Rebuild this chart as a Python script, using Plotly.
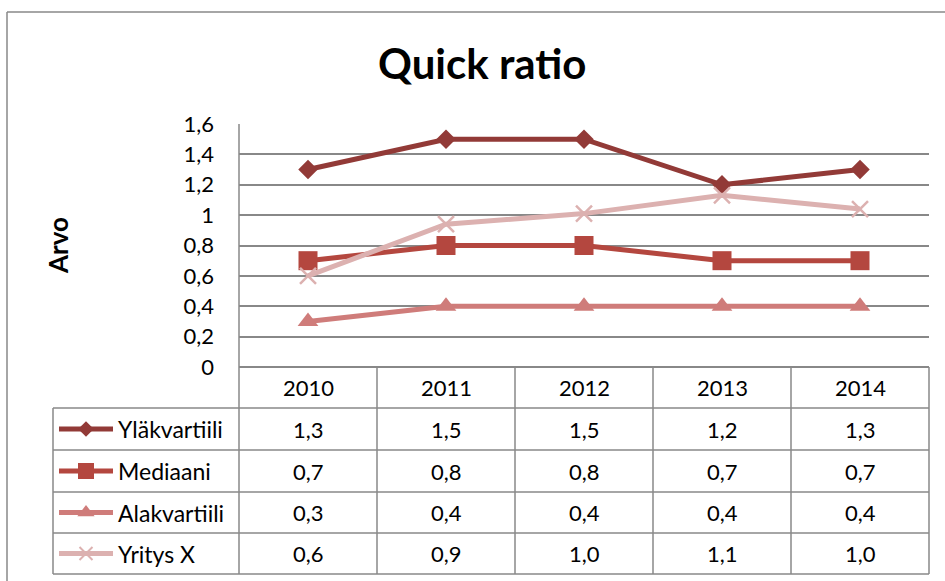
import plotly.graph_objects as go

W, H = 945, 581

# ---------------- data ----------------
years = ["2010", "2011", "2012", "2013", "2014"]
series_names = ["Yläkvartiili", "Mediaani", "Alakvartiili", "Yritys X"]
ylakvartiili = [1.3, 1.5, 1.5, 1.2, 1.3]
mediaani = [0.7, 0.8, 0.8, 0.7, 0.7]
alakvartiili = [0.3, 0.4, 0.4, 0.4, 0.4]
yritys_x = [0.60, 0.94, 1.01, 1.13, 1.04]
y_tick_vals = [0, 0.2, 0.4, 0.6, 0.8, 1.0, 1.2, 1.4, 1.6]
y_tick_text = ["0", "0,2", "0,4", "0,6", "0,8", "1", "1,2", "1,4", "1,6"]
title_text = "Quick ratio"
y_title = "Arvo"

series_values = [ylakvartiili, mediaani, alakvartiili, yritys_x]

# ---------------- styles ----------------
FONT = "Lato"
GRID = "#888888"
TXT = 22
styles = [
    dict(color="#923a37", symbol="diamond", size=15, ksize=12),
    dict(color="#b4473f", symbol="square", size=19, ksize=16),
    dict(color="#cf7c7a", symbol="triangle-up", size=18, ksize=15),
    dict(color="#dcb1b0", symbol="x-thin", size=16, ksize=13),
]

# layout in pixels
PL, PR, PT, PB = 239, 929, 124, 367
LEG_L = 53
ROW_LINES = [408, 450, 492, 533, 574]
HEADER_C = (PB + ROW_LINES[0]) / 2


def py(y):
    return 1 - y / H


fig = go.Figure()

for name, vals, st in zip(series_names, series_values, styles):
    mk = dict(color=st["color"], symbol=st["symbol"], size=st["size"])
    if st["symbol"] == "x-thin":
        mk["line"] = dict(color=st["color"], width=2.5)
    else:
        mk["line"] = dict(width=0)
    fig.add_trace(go.Scatter(
        x=years, y=vals, name=name, mode="lines+markers",
        line=dict(color=st["color"], width=5),
        marker=mk, xaxis="x", yaxis="y", showlegend=False,
        hoverinfo="skip",
    ))

shapes = []
annotations = []


def hline(x0, x1, y):
    shapes.append(dict(type="line", xref="x2", yref="y2", x0=x0, x1=x1, y0=y, y1=y,
                       line=dict(color=GRID, width=1.5), layer="above"))


def vline(x, y0, y1):
    shapes.append(dict(type="line", xref="x2", yref="y2", x0=x, x1=x, y0=y0, y1=y1,
                       line=dict(color=GRID, width=1.5), layer="above"))


# outer chart border
hline(7, W, 12)
vline(7, 12, H)

# table lines
vline(PL, PT, ROW_LINES[-1])
vline(LEG_L, ROW_LINES[0], ROW_LINES[-1])
for y in ROW_LINES:
    hline(LEG_L, PR, y)
col_w = (PR - PL) / len(years)
for i in range(1, len(years) + 1):
    vline(PL + i * col_w, PB, ROW_LINES[-1])

# header years (x positioned through the category axis by index)
for i, yr in enumerate(years):
    annotations.append(dict(x=i, y=HEADER_C, xref="x", yref="y2", text=yr,
                            showarrow=False, font=dict(family=FONT, size=TXT, color="#000"),
                            xanchor="center", yanchor="middle"))

# rows
for r, (name, vals, st) in enumerate(zip(series_names, series_values, styles)):
    yc = (ROW_LINES[r] + ROW_LINES[r + 1]) / 2
    for i, v in enumerate(vals):
        txt = f"{v:.1f}".replace(".", ",")
        annotations.append(dict(x=i, y=yc, xref="x", yref="y2", text=txt,
                                showarrow=False, font=dict(family=FONT, size=TXT, color="#000"),
                                xanchor="center", yanchor="middle"))
    annotations.append(dict(x=116, y=yc, xref="x2", yref="y2", text=name,
                            showarrow=False, font=dict(family=FONT, size=23, color="#000"),
                            xanchor="left", yanchor="middle"))
    # legend key
    fig.add_trace(go.Scatter(x=[59, 113], y=[yc, yc], mode="lines",
                             line=dict(color=st["color"], width=5),
                             xaxis="x2", yaxis="y2", showlegend=False, hoverinfo="skip"))
    mk = dict(color=st["color"], symbol=st["symbol"], size=st["ksize"])
    if st["symbol"] == "x-thin":
        mk["line"] = dict(color=st["color"], width=2)
    else:
        mk["line"] = dict(width=0)
    fig.add_trace(go.Scatter(x=[86], y=[yc], mode="markers", marker=mk,
                             xaxis="x2", yaxis="y2", showlegend=False, hoverinfo="skip"))

# title and y title
annotations.append(dict(x=482, y=63, xref="x2", yref="y2", text=f"<b>{title_text}</b>",
                        showarrow=False, font=dict(family=FONT, size=42, color="#000"),
                        xanchor="center", yanchor="middle"))
annotations.append(dict(x=58, y=246, xref="x2", yref="y2", text=f"<b>{y_title}</b>",
                        showarrow=False, textangle=-90,
                        font=dict(family=FONT, size=26, color="#000"),
                        xanchor="center", yanchor="middle"))

fig.update_layout(
    width=W, height=H, autosize=False,
    margin=dict(l=0, r=0, t=0, b=0, autoexpand=False),
    paper_bgcolor="white", plot_bgcolor="rgba(0,0,0,0)",
    separators=", ",
    showlegend=False,
    shapes=shapes, annotations=annotations,
    xaxis=dict(domain=[PL / W, PR / W], type="category", range=[-0.5, len(years) - 0.5],
               showgrid=False, showticklabels=False, zeroline=False, showline=False,
               anchor="y", fixedrange=True),
    yaxis=dict(domain=[py(PB), py(PT)], range=[0, 1.6], tickvals=y_tick_vals,
               ticktext=y_tick_text, showgrid=True, gridcolor=GRID, gridwidth=1.5,
               zeroline=True, zerolinecolor=GRID, zerolinewidth=1.5,
               showline=False, ticks="", ticklabelstandoff=24,
               tickfont=dict(family=FONT, size=TXT, color="#000"), anchor="x",
               fixedrange=True),
    xaxis2=dict(domain=[0, 1], range=[0, W], visible=False, anchor="y2", fixedrange=True),
    yaxis2=dict(domain=[0, 1], range=[H, 0], visible=False, anchor="x2", fixedrange=True),
)

fig.write_html("out.html")
